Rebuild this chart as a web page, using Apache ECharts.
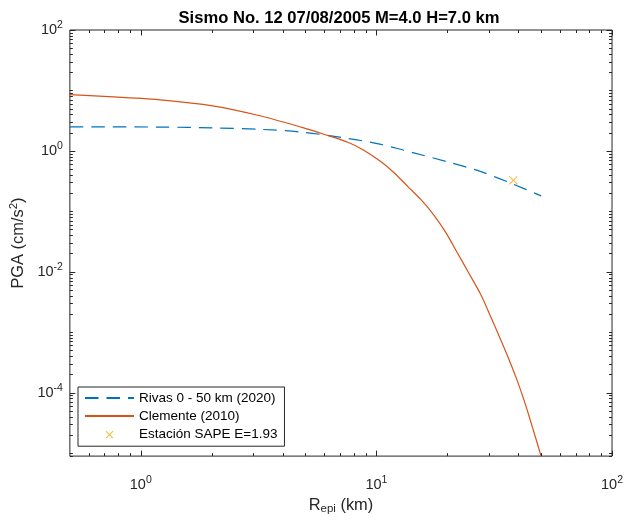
<!DOCTYPE html>
<html><head><meta charset="utf-8">
<script src="https://cdn.jsdelivr.net/npm/echarts@6/dist/echarts.min.js"></script>
<style>html,body{margin:0;padding:0;background:#fff}#c{width:626px;height:520px}</style>
</head><body><div id="c"></div>
<script>
// ---- data ----
const clementeR   = [0.5, 0.766, 1.243, 2.018, 3.27, 4.83, 6.03, 7.61, 8.88, 10.47, 11.88, 13.60, 15.43, 17.50, 19.66, 22.08, 24.56, 27.59, 30.39, 33.48, 36.18, 39.49, 42.25, 44.77, 47.46, 50];
const clementePGA = [8.49, 7.81, 6.92, 5.56, 3.74, 2.44, 1.86, 1.375, 1.017, 0.658, 0.4346, 0.2562, 0.1568, 0.0873, 0.0451, 0.0204, 0.00977, 0.00434, 0.00189, 7.93e-4, 3.87e-4, 1.62e-4, 7.62e-5, 3.72e-5, 1.75e-5, 8.86e-6];
const rivasR      = [0.5, 1.243, 2.018, 3.27, 4.83, 7.61, 10.47, 14.41, 20.04, 27.59, 37.6, 50];
const rivasPGA    = [2.50, 2.47, 2.40, 2.26, 2.04, 1.60, 1.275, 0.925, 0.658, 0.4565, 0.287, 0.180];
const stationR    = [38.1];
const stationPGA  = [0.325];
const seriesNames = ['Rivas 0 - 50 km (2020)', 'Clemente (2010)', 'Estación SAPE E=1.93'];
const xLabelPowers = [0, 1, 2];
const yLabelPowers = [-4, -2, 0, 2];
const xDecades = [-1, 0, 1];
const yDecades = [-6, -5, -4, -3, -2, -1, 0, 1];
const minorMultipliers = [1, 2, 3, 4, 5, 6, 7, 8, 9];
const xMin = 0.5, xMax = 100, yMin = 8.86e-6, yMax = 100;

const FONT = 'Liberation Sans';
const INK = '#262626';
const BLUE = '#0072BD', RED = '#D95319', YELLOW = '#EDB120';

function zip(a, b) { return a.map((v, i) => [v, b[i]]); }
function powLabel(powers) {
  return function (v) {
    const p = Math.round(Math.log10(v));
    if (Math.abs(Math.log10(v) - p) > 1e-6 || powers.indexOf(p) < 0) return '';
    return '{b|10}{s|' + p + '}';
  };
}
// tick list (axis decoration): kind 0 = x major, 1 = x minor, 2 = y major, 3 = y minor
const tickData = [];
xLabelPowers.forEach(p => tickData.push([Math.pow(10, p), 1, 0]));
xDecades.forEach(d => minorMultipliers.forEach(m => {
  const v = m * Math.pow(10, d);
  if (v > xMin && v < xMax && !(m === 1 && xLabelPowers.indexOf(d) >= 0)) tickData.push([v, 1, 1]);
}));
yLabelPowers.forEach(p => tickData.push([1, Math.pow(10, p), 2]));
yDecades.forEach(d => minorMultipliers.forEach(m => {
  const v = m * Math.pow(10, d);
  if (v > yMin && v < yMax && !(m === 1 && yLabelPowers.indexOf(d) >= 0)) tickData.push([1, v, 3]);
}));

function renderTick(params, api) {
  const cs = params.coordSys;
  const kind = api.value(2);
  const p = api.coord([api.value(0), api.value(1)]);
  const len = (kind % 2 === 0) ? 5.5 : 3;
  const style = { stroke: INK, lineWidth: 1 };
  if (kind < 2) {
    const x = Math.round(p[0]) + 0.5;
    const b = cs.y + cs.height, t = cs.y;
    return { type: 'group', children: [
      { type: 'line', shape: { x1: x, y1: b, x2: x, y2: b - len }, style },
      { type: 'line', shape: { x1: x, y1: t, x2: x, y2: t + len }, style }
    ]};
  }
  const y = Math.round(p[1]) + 0.5;
  const l = cs.x, r = cs.x + cs.width;
  return { type: 'group', children: [
    { type: 'line', shape: { x1: l, y1: y, x2: l + len, y2: y }, style },
    { type: 'line', shape: { x1: r, y1: y, x2: r - len, y2: y }, style }
  ]};
}

const labelRich = {
  b: { fontSize: 14.5, fontFamily: FONT, color: INK, lineHeight: 20 },
  s: { fontSize: 10.5, fontFamily: FONT, color: INK, lineHeight: 11, verticalAlign: 'top' }
};
const hiddenIconStyle = { color: 'rgba(0,0,0,0)', borderWidth: 0, opacity: 0 };

const chart = echarts.init(document.getElementById('c'), null, { renderer: 'canvas' });
chart.setOption({
  backgroundColor: '#ffffff',
  animation: false,
  title: {
    text: 'Sismo No. 12 07/08/2005 M=4.0 H=7.0 km',
    left: 334, top: 5, textAlign: 'center',
    textStyle: { fontFamily: FONT, fontSize: 16.6, fontWeight: 'bold', color: '#000' }
  },
  grid: { left: 66, right: 13, top: 30, bottom: 60, show: true, borderColor: INK, borderWidth: 1, backgroundColor: '#fff' },
  xAxis: {
    type: 'log', logBase: 10, min: xMin, max: xMax, splitNumber: 10,
    axisLine: { show: false }, axisTick: { show: false }, splitLine: { show: false },
    axisLabel: { formatter: powLabel(xLabelPowers), margin: 19, rich: labelRich, hideOverlap: false },
    name: '{n|R}{sub|epi}{n| (km)}', nameLocation: 'middle', nameGap: 38,
    nameTextStyle: { rich: {
      n: { fontSize: 16.4, fontFamily: FONT, color: INK, lineHeight: 19 },
      sub: { fontSize: 11.5, fontFamily: FONT, color: INK, lineHeight: 11, verticalAlign: 'bottom' }
    } }
  },
  yAxis: {
    type: 'log', logBase: 10, min: yMin, max: yMax, splitNumber: 10,
    axisLine: { show: false }, axisTick: { show: false }, splitLine: { show: false },
    axisLabel: { formatter: powLabel(yLabelPowers), margin: 7, rich: labelRich, hideOverlap: false },
    name: '{n|PGA (cm/s}{sup|2}{n|)}', nameLocation: 'middle', nameGap: 36,
    nameTextStyle: { rich: {
      n: { fontSize: 16.4, fontFamily: FONT, color: INK, lineHeight: 21 },
      sup: { fontSize: 11.5, fontFamily: FONT, color: INK, lineHeight: 12, verticalAlign: 'top' }
    } }
  },
  legend: {
    orient: 'vertical', left: 78, top: 387,
    itemWidth: 49, itemHeight: 14, itemGap: 4,
    padding: [4, 7, 4, 6],
    borderColor: INK, borderWidth: 1, backgroundColor: '#fff',
    textStyle: { fontFamily: FONT, fontSize: 13.5, color: '#000' },
    data: [
      { name: seriesNames[0], itemStyle: hiddenIconStyle },
      { name: seriesNames[1], itemStyle: hiddenIconStyle },
      { name: seriesNames[2], icon: 'path://M-5,-5M0,0L10,10M10,0L0,10M15,15',
        itemStyle: { color: 'rgba(0,0,0,0)', borderColor: YELLOW, borderWidth: 1.2 } }
    ]
  },
  series: [
    {
      name: seriesNames[0], type: 'line', data: zip(rivasR, rivasPGA),
      symbol: 'none', smooth: 0.3,
      lineStyle: { color: BLUE, width: 1.2, type: [13.5, 8] },
      itemStyle: { color: BLUE }, z: 3
    },
    {
      name: seriesNames[1], type: 'line', data: zip(clementeR, clementePGA),
      symbol: 'none', smooth: 0.3,
      lineStyle: { color: RED, width: 1.2, join: 'round' },
      itemStyle: { color: RED }, z: 3
    },
    {
      name: seriesNames[2], type: 'scatter', data: zip(stationR, stationPGA),
      symbol: 'path://M0,0L10,10M10,0L0,10', symbolSize: 8,
      itemStyle: { color: 'rgba(0,0,0,0)', borderColor: YELLOW, borderWidth: 1.2 }, z: 4
    },
    {
      type: 'custom', renderItem: renderTick, data: tickData, silent: true, clip: false,
      encode: { x: 0, y: 1 }, z: 5
    }
  ]
});
</script>
</body></html>
